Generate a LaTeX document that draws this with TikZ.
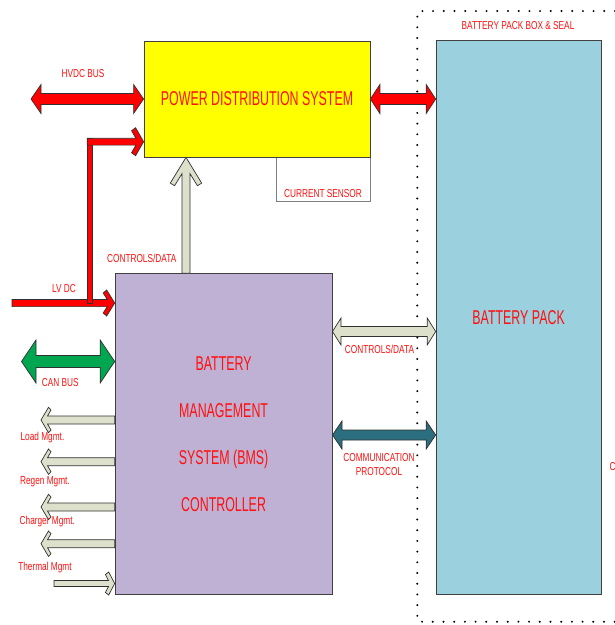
\documentclass[tikz,border=0pt]{standalone}
\usepackage{fontspec}
\setmainfont{Liberation Sans}
\newfontfamily\bigf[FakeStretch=0.62]{Liberation Sans}
\newfontfamily\smf[FakeStretch=0.72]{Liberation Sans}
\usetikzlibrary{calc}
\definecolor{pdsyellow}{HTML}{FFFF00}
\definecolor{bpblue}{HTML}{9BD0DE}
\definecolor{bmsviolet}{HTML}{BFB1D3}
\definecolor{palegreen}{HTML}{DDE1CC}
\definecolor{tealc}{HTML}{2A6E7F}
\definecolor{cangreen}{HTML}{00A650}
\definecolor{txtred}{HTML}{FF1010}
\definecolor{boxline}{HTML}{404040}
\definecolor{arrline}{HTML}{303030}
\tikzset{
  box/.style={draw=boxline, line width=0.8pt, inner sep=0pt},
  bigtxt/.style={font=\bigf\fontsize{20}{24}\selectfont, text=txtred},
  lbl/.style={font=\smf\fontsize{11.5}{14}\selectfont, text=txtred, inner sep=0pt, text height=8.2pt, text depth=0pt},
  lbltwo/.style={font=\smf\fontsize{11.5}{14}\selectfont, text=txtred, inner sep=0pt, align=center},
  redarr/.style={fill=red, draw=arrline, line width=0.7pt, line join=miter},
  grayarr/.style={fill=palegreen, draw=arrline, line width=0.7pt, line join=miter},
  greenarr/.style={fill=cangreen, draw=arrline, line width=0.7pt, line join=miter},
  tealarr/.style={fill=tealc, draw=arrline, line width=0.7pt, line join=miter},
  dotline/.style={draw=black, line width=2.2pt, line cap=round, dash pattern=on 0pt off 10.7pt},
  csbox/.style={draw=gray, fill=white, line width=0.8pt, minimum width=94pt, minimum height=44pt, inner sep=0pt}
}
% horizontal double block arrow: style, left tip, right tip, shaft half, head half, head length
\newcommand\dblblock[6]{\filldraw[#1] let \p1=(#2), \p2=(#3) in
  (\x1,\y1) -- (\x1+#6,\y1+#5) -- (\x1+#6,\y1+#4) -- (\x2-#6,\y1+#4) -- (\x2-#6,\y1+#5)
  -- (\x2,\y1) -- (\x2-#6,\y1-#5) -- (\x2-#6,\y1-#4) -- (\x1+#6,\y1-#4) -- (\x1+#6,\y1-#5) -- cycle;}
% chevron arrows: style, tip, tail, shaft half, outer along, outer across, back along, back across, inner along
\newcommand\chevR[9]{\filldraw[#1] let \p1=(#2), \p2=(#3) in
  (\x1,\y1) -- (\x1-#5,\y1+#6) -- (\x1-#7,\y1+#8) -- (\x1-#9,\y1+#4) -- (\x2,\y1+#4)
  -- (\x2,\y1-#4) -- (\x1-#9,\y1-#4) -- (\x1-#7,\y1-#8) -- (\x1-#5,\y1-#6) -- cycle;}
\newcommand\chevL[9]{\filldraw[#1] let \p1=(#2), \p2=(#3) in
  (\x1,\y1) -- (\x1+#5,\y1+#6) -- (\x1+#7,\y1+#8) -- (\x1+#9,\y1+#4) -- (\x2,\y1+#4)
  -- (\x2,\y1-#4) -- (\x1+#9,\y1-#4) -- (\x1+#7,\y1-#8) -- (\x1+#5,\y1-#6) -- cycle;}
\newcommand\chevU[9]{\filldraw[#1] let \p1=(#2), \p2=(#3) in
  (\x1,\y1) -- (\x1-#6,\y1-#5) -- (\x1-#8,\y1-#7) -- (\x1-#4,\y1-#9) -- (\x1-#4,\y2)
  -- (\x1+#4,\y2) -- (\x1+#4,\y1-#9) -- (\x1+#8,\y1-#7) -- (\x1+#6,\y1-#5) -- cycle;}
\begin{document}
\begin{tikzpicture}[x=1pt,y=-1pt]
\useasboundingbox (0,0) rectangle (615,625);
% sealed box boundary
\draw[dotline] (615,11) -- (417.3,11) -- (417.3,621.7) -- (615,621.7);
% main blocks
\node[box, fill=bpblue, minimum width=165pt, minimum height=553.6pt, bigtxt] (bp) at (518.6,317.5) {BATTERY PACK};
\node[csbox, anchor=north] (cs) at (323,157) {};
\node[box, fill=pdsyellow, minimum width=226pt, minimum height=116pt, bigtxt] (pds) at (257,99) {POWER DISTRIBUTION SYSTEM};
\node[box, fill=bmsviolet, minimum width=217pt, minimum height=320.6pt, bigtxt, align=center, font=\bigf\fontsize{20}{47}\selectfont] (bms) at (223.6,434) {BATTERY\\MANAGEMENT\\SYSTEM (BMS)\\CONTROLLER};
% free ends
\coordinate (hvL) at (31,99);
\coordinate (canL) at (21.5,361.5);
\coordinate (lvin) at (12,303);
\coordinate (lvj) at (90,303);
\coordinate (lvtop) at (90,141.7);
\coordinate (cdY) at (0,331.5);
\coordinate (cpY) at (0,435);
\coordinate (upT) at (pds.south -| 186,0);
\coordinate (upB) at (bms.north -| 186,0);
\coordinate (ldT) at (41,420);
\coordinate (rgT) at (41,461.7);
\coordinate (chT) at (41,507);
\coordinate (tmT) at (41,543.7);
\coordinate (thT) at (54,583.5);
% power connections
\dblblock{redarr}{hvL}{pds.west}{5.5pt}{14.5pt}{10pt}
\dblblock{redarr}{pds.east}{pds.east -| bp.west}{5.5pt}{14.5pt}{9.5pt}
\chevR{redarr}{bms.west |- lvin}{lvin}{3.6pt}{8pt}{13pt}{11.5pt}{10pt}{7.5pt}
\filldraw[redarr] ($(lvj)+(-2.7,0)$) rectangle ($(lvtop)+(2.7,-3.4)$);
\chevR{redarr}{pds.west |- lvtop}{$(lvj |- lvtop)+(-2.7,0)$}{3.4pt}{8pt}{14pt}{12pt}{11pt}{7.7pt}
% data connections
\chevU{grayarr}{upT}{upB}{4pt}{25.7pt}{15.7pt}{28.3pt}{11.4pt}{16.2pt}
\dblblock{greenarr}{canL}{bms.west |- canL}{6pt}{21.5pt}{14.5pt}
\dblblock{grayarr}{bms.east |- cdY}{bp.west |- cdY}{5pt}{13.5pt}{8.5pt}
\dblblock{tealarr}{bms.east |- cpY}{bp.west |- cpY}{5pt}{14pt}{9.5pt}
\chevL{grayarr}{ldT}{bms.west |- ldT}{4pt}{7.5pt}{12.7pt}{10pt}{10pt}{6.5pt}
\chevL{grayarr}{rgT}{bms.west |- rgT}{4pt}{7.5pt}{12.7pt}{10pt}{10pt}{6.5pt}
\chevL{grayarr}{chT}{bms.west |- chT}{4pt}{7.5pt}{12.7pt}{10pt}{10pt}{6.5pt}
\chevL{grayarr}{tmT}{bms.west |- tmT}{4pt}{7.5pt}{12.7pt}{10pt}{10pt}{6.5pt}
\chevR{grayarr}{bms.west |- thT}{thT}{3pt}{6pt}{11.5pt}{9.3pt}{9pt}{6.2pt}
% labels
\node[lbl] (hvdcl) at (83,73) {HVDC BUS};
\node[lbl] (bpboxl) at (518,25) {BATTERY PACK BOX \& SEAL};
\node[lbl] (csl) at (323,193.5) {CURRENT SENSOR};
\node[lbl] (cdla) at (141.7,258) {CONTROLS/DATA};
\node[lbl] (lvl) at (64,288.3) {LV DC};
\node[lbl] (canl) at (60.3,382.7) {CAN BUS};
\node[lbl] (cdlb) at (379.5,349.3) {CONTROLS/DATA};
\node[lbltwo, anchor=north] (cpl) at (379,453.6) {COMMUNICATION\\PROTOCOL};
\node[lbl] (ldl) at (42.5,436.3) {Load Mgmt.};
\node[lbl] (rgl) at (45,480.2) {Regen Mgmt.};
\node[lbl] (chl) at (47.3,520.2) {Charger Mgmt.};
\node[lbl] (thl) at (45,566.5) {Thermal Mgmt};
\node[lbl, anchor=west] (cutl) at (609.3,466) {C};
\end{tikzpicture}
\end{document}
